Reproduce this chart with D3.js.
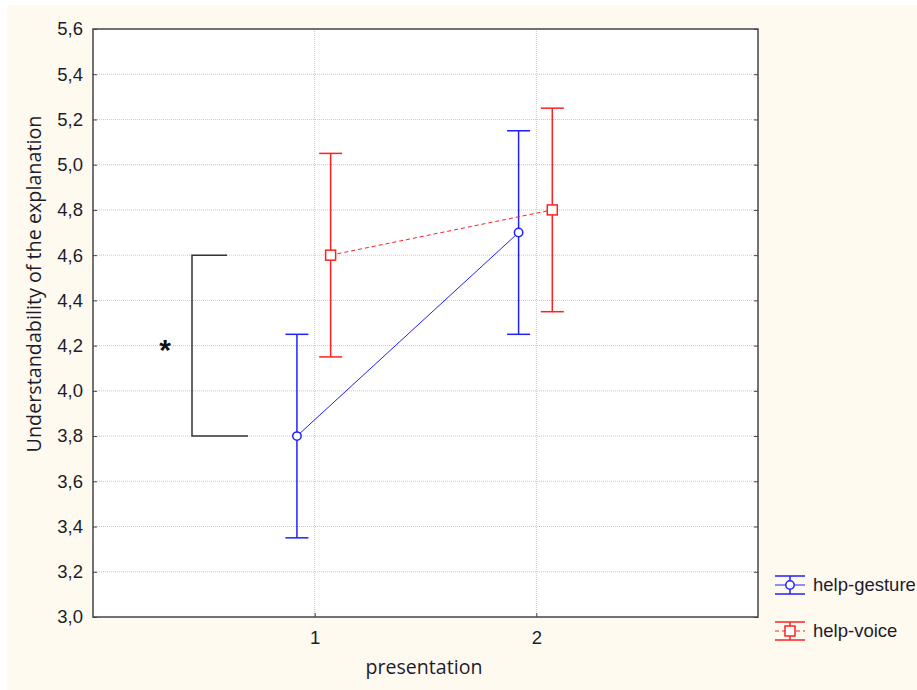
<!DOCTYPE html>
<html><head><meta charset="utf-8">
<script src="https://cdn.jsdelivr.net/npm/d3@7"></script>
<style>body{margin:0;background:#fff}</style>
</head><body>
<script>
const categories = [1, 2];
const yTicks = [3.0,3.2,3.4,3.6,3.8,4.0,4.2,4.4,4.6,4.8,5.0,5.2,5.4,5.6];
const gestureMean = [3.8, 4.7];
const gestureLow = [3.35, 4.25];
const gestureHigh = [4.25, 5.15];
const voiceMean = [4.6, 4.8];
const voiceLow = [4.15, 4.35];
const voiceHigh = [5.05, 5.25];
const seriesNames = ["help-gesture", "help-voice"];
const bracket = {top: 4.6, bottom: 3.8, label: "*"};

const W = 917, H = 690;
const svg = d3.select("body").append("svg").attr("width", W).attr("height", H);
svg.append("rect").attr("x",7).attr("y",5).attr("width",W-7).attr("height",H-5).attr("fill","#fffaf0");

const L = 93, R = 758, T = 29, B = 617;
const x = d3.scaleLinear().domain([0,3]).range([L,R]);
const y = d3.scaleLinear().domain([3.0,5.6]).range([B,T]);
svg.append("rect").attr("x",L).attr("y",T).attr("width",R-L).attr("height",B-T).attr("fill","#fff");

const font = "Liberation Sans, Arial, sans-serif";
const tfont = "Open Sans, Noto Sans, sans-serif";
const txtColor = "#1c1c2c";
// grid
svg.append("g").selectAll("line").data(yTicks.slice(1,-1)).join("line")
  .attr("x1",L).attr("x2",R).attr("y1",d=>y(d)).attr("y2",d=>y(d))
  .attr("stroke","#c8c8c8").attr("stroke-dasharray","1,1");
svg.append("g").selectAll("line").data(categories).join("line")
  .attr("y1",T).attr("y2",B).attr("x1",d=>x(d)).attr("x2",d=>x(d))
  .attr("stroke","#c8c8c8").attr("stroke-dasharray","1,1");

// axes
const yAxis = d3.axisLeft(y).tickValues(yTicks).tickSizeInner(-4).tickSizeOuter(0).tickPadding(10)
  .tickFormat(d=>d3.format(".1f")(d).replace(".",","));
const gy = svg.append("g").attr("transform",`translate(${L},0)`).call(yAxis);
const gyr = svg.append("g").attr("transform",`translate(${R},0)`).call(d3.axisRight(y).tickValues(yTicks).tickSizeInner(-4).tickSizeOuter(0).tickFormat(""));
const xAxis = d3.axisBottom(x).tickValues(categories).tickSizeInner(-4).tickSizeOuter(0).tickPadding(14).tickFormat(d3.format("d"));
const gx = svg.append("g").attr("transform",`translate(0,${B})`).call(xAxis);
[gy,gyr,gx].forEach(g=>{
  g.select(".domain").remove();
  g.selectAll("line").attr("stroke","#444");
  g.selectAll("text").attr("font-family",font).attr("font-size",18.5).attr("fill",txtColor);
});
svg.append("rect").attr("x",L).attr("y",T).attr("width",R-L).attr("height",B-T)
  .attr("fill","none").attr("stroke","#444").attr("stroke-width",1.5);

// titles (sized to fit the reference extent)
function fitText(sel, target) {
  const len = sel.node().getComputedTextLength();
  sel.attr("font-size", 18 * target / len);
}
const yt = svg.append("text").attr("transform",`translate(41,284) rotate(-90)`).attr("text-anchor","middle")
  .attr("font-family",tfont).attr("font-size",18).attr("fill",txtColor).text("Understandability of the explanation");
fitText(yt, 337);
const xt = svg.append("text").attr("x",424).attr("y",674).attr("text-anchor","middle")
  .attr("font-family",tfont).attr("font-size",18).attr("fill",txtColor).text("presentation");
fitText(xt, 117);

// series
const series = [
  {name: seriesNames[0], mean: gestureMean, lo: gestureLow, hi: gestureHigh, off: -0.08, color: "#2020ff", dash: null, marker: "circle"},
  {name: seriesNames[1], mean: voiceMean, lo: voiceLow, hi: voiceHigh, off: 0.072, color: "#ff2020", dash: "4,3", marker: "square"}
];
const cap = 11.5;
series.forEach(s=>{
  const g = svg.append("g");
  const pts = categories.map((c,i)=>({x: x(c+s.off), m: y(s.mean[i]), lo: y(s.lo[i]), hi: y(s.hi[i])}));
  g.selectAll(".eb").data(pts).join("line").attr("x1",d=>d.x).attr("x2",d=>d.x)
    .attr("y1",d=>d.lo).attr("y2",d=>d.hi).attr("stroke",s.color).attr("stroke-width",1.5);
  g.selectAll(".cl").data(pts).join("line").attr("x1",d=>d.x-cap).attr("x2",d=>d.x+cap)
    .attr("y1",d=>d.lo).attr("y2",d=>d.lo).attr("stroke",s.color).attr("stroke-width",1.5);
  g.selectAll(".ch").data(pts).join("line").attr("x1",d=>d.x-cap).attr("x2",d=>d.x+cap)
    .attr("y1",d=>d.hi).attr("y2",d=>d.hi).attr("stroke",s.color).attr("stroke-width",1.5);
  g.append("path").attr("d",d3.line().x(d=>d.x).y(d=>d.m)(pts)).attr("fill","none")
    .attr("stroke",s.color).attr("stroke-width",1).attr("stroke-dasharray",s.dash);
  if (s.marker==="circle") {
    g.selectAll("circle").data(pts).join("circle").attr("cx",d=>d.x).attr("cy",d=>d.m).attr("r",4.2)
      .attr("fill","#fff").attr("stroke",s.color).attr("stroke-width",1.5);
  } else {
    g.selectAll("rect").data(pts).join("rect").attr("x",d=>d.x-5).attr("y",d=>d.m-5).attr("width",10).attr("height",10)
      .attr("fill","#fff").attr("stroke",s.color).attr("stroke-width",1.5);
  }
});

// bracket
const bx = 192;
svg.append("path").attr("d",`M${bx+35},${y(bracket.top)}H${bx}V${y(bracket.bottom)}H${bx+56}`)
  .attr("fill","none").attr("stroke","#333").attr("stroke-width",1.5);
svg.append("text").attr("x",165).attr("y",y((bracket.top+bracket.bottom)/2)+14).attr("text-anchor","middle")
  .attr("font-family",font).attr("font-size",30).attr("font-weight","bold").attr("fill","#111").text(bracket.label);

// legend
series.forEach((s,i)=>{
  const cy = 585 + i*46;
  const g = svg.append("g");
  const x0 = 775, x1 = 805, xm = 790;
  g.append("line").attr("x1",x0).attr("x2",x1).attr("y1",cy-9).attr("y2",cy-9).attr("stroke",s.color).attr("stroke-width",1.5);
  g.append("line").attr("x1",x0).attr("x2",x1).attr("y1",cy+9).attr("y2",cy+9).attr("stroke",s.color).attr("stroke-width",1.5);
  g.append("line").attr("x1",xm).attr("x2",xm).attr("y1",cy-9).attr("y2",cy+9).attr("stroke",s.color).attr("stroke-width",1.5);
  g.append("line").attr("x1",x0).attr("x2",x1).attr("y1",cy).attr("y2",cy).attr("stroke",s.color).attr("stroke-width",1).attr("stroke-dasharray",s.dash);
  if (s.marker==="circle") g.append("circle").attr("cx",xm).attr("cy",cy).attr("r",4.2).attr("fill","#fff").attr("stroke",s.color).attr("stroke-width",1.5);
  else g.append("rect").attr("x",xm-5).attr("y",cy-5).attr("width",10).attr("height",10).attr("fill","#fff").attr("stroke",s.color).attr("stroke-width",1.5);
  g.append("text").attr("x",813).attr("y",cy+6).attr("font-family",font).attr("font-size",18.5).attr("fill",txtColor).text(s.name);
});
</script>
</body></html>
